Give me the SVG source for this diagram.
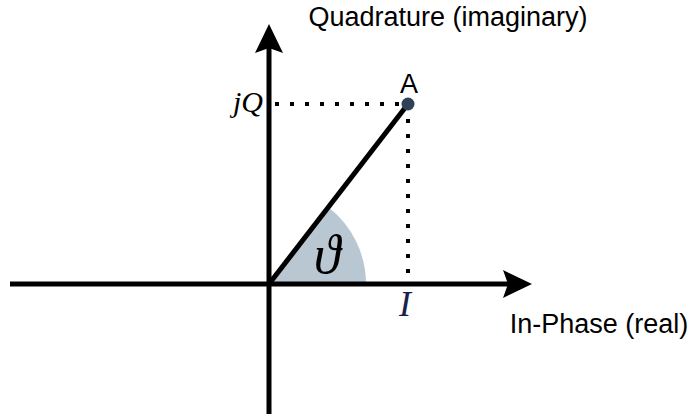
<svg xmlns="http://www.w3.org/2000/svg" width="688" height="417" viewBox="0 0 688 417">
<style>
.ax{stroke:#000;stroke-width:5;fill:none}
.dot{stroke:#000;stroke-width:4;stroke-dasharray:4 11;fill:none}
.lbl{font-family:"Liberation Sans",Arial,sans-serif;font-size:27px;fill:#000}
.math{font-family:"Liberation Serif","DejaVu Serif",serif;font-style:italic}
</style>
<rect width="688" height="417" fill="#fff"/>
<g id="angle">
<path d="M269,284 L366,284 A97,97 0 0 0 328.3,207.3 Z" fill="#b9c7d3"/>
<text x="327" y="273" class="math" font-size="54" text-anchor="middle">ϑ</text>
</g>
<g id="connectors">
<line class="ax" x1="10" y1="284" x2="510" y2="284"/>
<path d="M532,284 L503,270 L508,284 L503,298 Z" fill="#000"/>
<line class="ax" x1="269" y1="414" x2="269" y2="46"/>
<path d="M269,24 L255,53 L269,48 L283,53 Z" fill="#000"/>
<line class="ax" x1="269" y1="284" x2="408" y2="104"/>
<line class="dot" x1="275" y1="104" x2="400" y2="104"/>
<line class="dot" x1="408" y1="119" x2="408" y2="284"/>
</g>
<g id="pointA">
<circle cx="408" cy="104" r="6.5" fill="#2e4257"/>
<text x="409" y="93" class="lbl" font-size="25" text-anchor="middle">A</text>
</g>
<text x="263" y="112" class="math" font-size="30" text-anchor="end">jQ</text>
<text x="405" y="316" class="math" font-size="36" fill="#1a1f4f" text-anchor="middle">I</text>
<text x="448" y="26" class="lbl" text-anchor="middle">Quadrature (imaginary)</text>
<text x="599" y="333" class="lbl" text-anchor="middle">In-Phase (real)</text>
</svg>
